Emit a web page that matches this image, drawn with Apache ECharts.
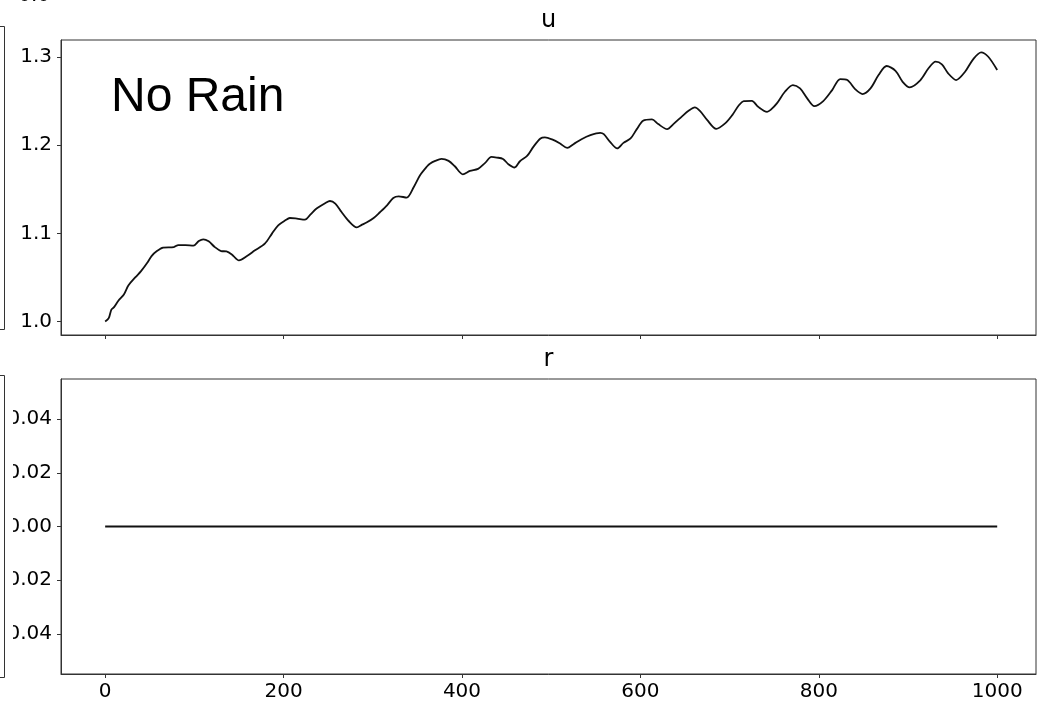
<!DOCTYPE html>
<html>
<head>
<meta charset="utf-8">
<script src="https://cdn.jsdelivr.net/npm/echarts@6/dist/echarts.min.js"></script>
<style>
  html, body { margin: 0; padding: 0; background: #fff; }
  #chart { width: 1041px; height: 706px; }
</style>
</head>
<body>
<div id="chart"></div>
<script>
// u: model state over time (no rain case)
const uTime = [0, 4, 7, 10, 15, 21, 26, 34, 40, 47, 52, 58, 65, 77, 82, 90, 99, 105, 110, 116,
  123, 130, 136, 142, 150, 159, 168, 179, 187, 194, 202, 207, 215, 224, 230, 237, 247, 252, 258, 265,
  273, 282, 288, 293, 301, 308, 316, 323, 329, 338, 346, 353, 361, 364, 370, 377, 385, 392, 401, 409,
  418, 426, 433, 439, 446, 452, 459, 465, 473, 480, 488, 493, 501, 510, 518, 525, 534, 544, 555, 559,
  566, 574, 581, 589, 596, 603, 613, 620, 630, 637, 647, 654, 661, 667, 675, 685, 695, 703, 710, 716,
  725, 732, 742, 746, 753, 762, 771, 779, 787, 795, 805, 815, 824, 832, 841, 849, 858, 867, 876, 886,
  894, 902, 914, 923, 931, 938, 945, 954, 964, 973, 982, 990, 1000];
const uValues = [1.0000, 1.0038, 1.0136, 1.0163, 1.0239, 1.0307, 1.0409, 1.0503, 1.0568, 1.0663,
  1.0742, 1.0799, 1.0838, 1.0844, 1.0867, 1.0867, 1.0860, 1.0913, 1.0932, 1.0909,
  1.0844, 1.0799, 1.0795, 1.0761, 1.0693, 1.0742, 1.0807, 1.0883, 1.0997, 1.1091,
  1.1148, 1.1174, 1.1167, 1.1156, 1.1213, 1.1281, 1.1344, 1.1367, 1.1338, 1.1242,
  1.1140, 1.1068, 1.1099, 1.1122, 1.1174, 1.1239, 1.1318, 1.1401, 1.1420, 1.1406,
  1.1526, 1.1659, 1.1761, 1.1790, 1.1822, 1.1844, 1.1822, 1.1761, 1.1670, 1.1708,
  1.1731, 1.1799, 1.1867, 1.1860, 1.1844, 1.1784, 1.1747, 1.1818, 1.1878, 1.1981,
  1.2076, 1.2088, 1.2065, 1.2019, 1.1969, 1.2011, 1.2068, 1.2114, 1.2140, 1.2125,
  1.2038, 1.1963, 1.2026, 1.2076, 1.2182, 1.2276, 1.2292, 1.2239, 1.2182, 1.2239,
  1.2330, 1.2390, 1.2428, 1.2386, 1.2284, 1.2185, 1.2247, 1.2341, 1.2447, 1.2500,
  1.2503, 1.2435, 1.2378, 1.2400, 1.2474, 1.2606, 1.2682, 1.2644, 1.2531, 1.2443,
  1.2500, 1.2625, 1.2750, 1.2739, 1.2633, 1.2580, 1.2644, 1.2795, 1.2898, 1.2844,
  1.2719, 1.2656, 1.2739, 1.2872, 1.2947, 1.2917, 1.2815, 1.2739, 1.2833, 1.2974,
  1.3053, 1.3003, 1.2852];

// r: rain forcing, zero throughout
const rTime = [0, 100, 200, 300, 400, 500, 600, 700, 800, 900, 1000];
const rValues = [0, 0, 0, 0, 0, 0, 0, 0, 0, 0, 0];

// tick labels
const timeTicks = [0, 200, 400, 600, 800, 1000];
const uTicks = [1.0, 1.1, 1.2, 1.3];
const rTicks = [-0.04, -0.02, 0.00, 0.02, 0.04];

const FONT = 'DejaVu Sans';
const INK = '#000';
const SPINE = '#333';

function xAxisFor(gridIndex, showLabels) {
  return {
    type: 'value', gridIndex: gridIndex,
    min: -49.5, max: 1043.5,
    axisLine: { show: true, onZero: false, lineStyle: { color: SPINE, width: 1 } },
    axisTick: { show: true, length: 4, lineStyle: { color: SPINE }, customValues: timeTicks },
    axisLabel: {
      show: showLabels, customValues: timeTicks, margin: 8,
      color: INK, fontFamily: FONT, fontSize: 20,
      formatter: v => String(Math.round(v))
    },
    splitLine: { show: false }
  };
}

function yAxisFor(gridIndex, min, max, ticks, digits) {
  return {
    type: 'value', gridIndex: gridIndex, min: min, max: max,
    axisLine: { show: true, onZero: false, lineStyle: { color: SPINE, width: 1 } },
    axisTick: { show: true, length: 4, lineStyle: { color: SPINE }, customValues: ticks },
    axisLabel: {
      customValues: ticks, margin: 9,
      color: INK, fontFamily: FONT, fontSize: 20,
      formatter: v => {
        const s = Math.abs(v).toFixed(digits);
        return (v < -1e-9 ? '\u2212' : '') + s;
      }
    },
    splitLine: { show: false }
  };
}

const chart = echarts.init(document.getElementById('chart'), null, { renderer: 'canvas' });

chart.setOption({
  animation: false,
  backgroundColor: '#fff',
  grid: [
    { left: 61, right: 5, top: 40, height: 295, outerBoundsMode: 'none', containLabel: false,
      show: true, borderColor: SPINE, borderWidth: 1, backgroundColor: 'transparent' },
    { left: 61, right: 5, top: 379, height: 295, outerBoundsMode: 'none', containLabel: false,
      show: true, borderColor: SPINE, borderWidth: 1, backgroundColor: 'transparent' }
  ],
  xAxis: [xAxisFor(0, false), xAxisFor(1, true)],
  yAxis: [
    yAxisFor(0, 0.9847, 1.3193, uTicks, 1),
    yAxisFor(1, -0.055, 0.055, rTicks, 2)
  ],
  series: [
    {
      name: 'u', type: 'line', xAxisIndex: 0, yAxisIndex: 0,
      data: uTime.map((t, i) => [t, uValues[i]]),
      showSymbol: false, smooth: 0.3,
      lineStyle: { color: '#111', width: 1.8 }
    },
    {
      name: 'r', type: 'line', xAxisIndex: 1, yAxisIndex: 1,
      data: rTime.map((t, i) => [t, rValues[i]]),
      showSymbol: false,
      lineStyle: { color: '#111', width: 1.8 }
    }
  ],
  graphic: [
    // panel titles
    { type: 'text', x: 548.5, y: 21, z: 10,
      style: { text: 'u', font: '24px "DejaVu Sans"', fill: INK, align: 'center', verticalAlign: 'middle' } },
    { type: 'text', x: 548.5, y: 360, z: 10,
      style: { text: 'r', font: '24px "DejaVu Sans"', fill: INK, align: 'center', verticalAlign: 'middle' } },
    // annotation in the upper panel
    { type: 'text', x: 111, y: 98, z: 10,
      style: { text: 'No Rain', font: '48px "Liberation Sans"', fill: INK, align: 'left', verticalAlign: 'middle' } },
    // neighbouring panel column at the left edge
    { type: 'text', x: 50, y: -4, z: 10,
      style: { text: '0.0', font: '20px "DejaVu Sans"', fill: INK, align: 'right', verticalAlign: 'middle' } },
    { type: 'rect', z: 20, shape: { x: 0, y: 385, width: 13, height: 285 }, style: { fill: '#fff' } },
    { type: 'polyline', z: 30, shape: { points: [[0, 26.5], [4.5, 26.5], [4.5, 329.5], [0, 329.5]] },
      style: { stroke: SPINE, lineWidth: 1, fill: null } },
    { type: 'polyline', z: 30, shape: { points: [[0, 375.5], [4.5, 375.5], [4.5, 677.5], [0, 677.5]] },
      style: { stroke: SPINE, lineWidth: 1, fill: null } }
  ]
});
</script>
</body>
</html>
